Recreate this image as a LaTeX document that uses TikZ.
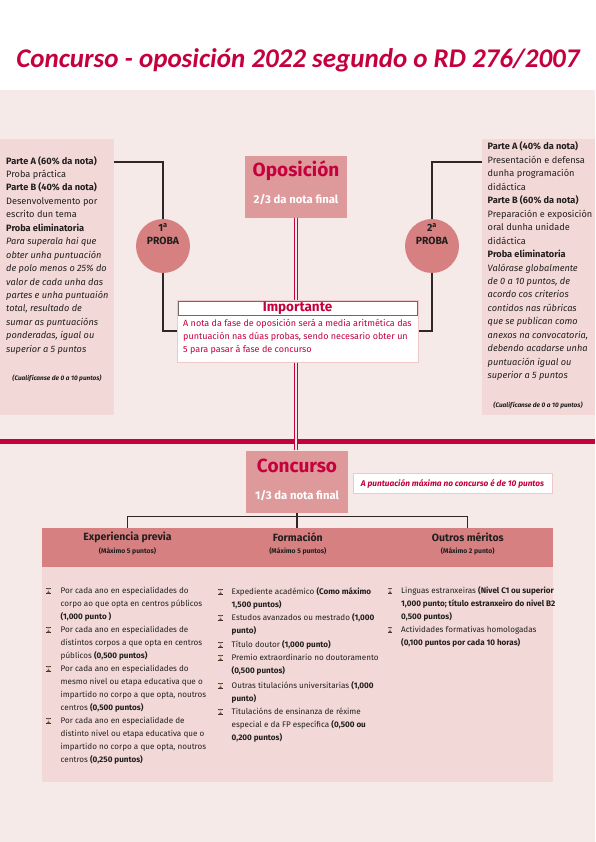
\documentclass[tikz,border=0pt]{standalone}
\usepackage{fontspec}
\setmainfont{Fira Sans}
\newfontfamily\titlefont{Carlito}
\usepackage{xcolor}
\usepackage{tikz}
\usetikzlibrary{positioning,calc}
\definecolor{rdcrimson}{RGB}{196,0,62}
\definecolor{rdbg}{RGB}{246,234,233}
\definecolor{rdpale}{RGB}{242,217,216}
\definecolor{rdrose}{RGB}{222,154,154}
\definecolor{rdsalmon}{RGB}{214,128,129}
\definecolor{rdink}{RGB}{34,30,30}
\definecolor{rdline}{RGB}{48,38,38}
\definecolor{rdframe}{RGB}{240,200,200}
\definecolor{rdgray}{RGB}{110,104,104}
\definecolor{rdsand}{RGB}{200,186,160}
\definecolor{rdbrown}{RGB}{120,84,58}
\newcommand{\fs}[2]{\fontsize{#1}{#2}\selectfont}

\tikzset{
  hourglass/.pic={
    \fill[rdline] (-2.3,-3.1) rectangle (2.3,-2.4);
    \fill[rdline] (-2.3,2.4) rectangle (2.3,3.1);
    \fill[rdsand] (-1.9,-2.4) -- (1.9,-2.4) -- (0,0) -- cycle;
    \fill[rdbrown] (-1.9,2.4) -- (1.9,2.4) -- (0,0) -- cycle;
  },
}

\begin{document}
\begin{tikzpicture}[x=1pt, y=-1pt,
  panel/.style={fill=rdpale, inner sep=0pt, outer sep=0pt, anchor=north west},
  phase/.style={fill=rdrose, inner sep=0pt, minimum width=102pt, minimum height=62pt},
  proba/.style={circle, fill=rdsalmon, inner sep=0pt, minimum size=54pt},
  sidetxt/.style={font=\fs{9.2}{13.45}, text=rdink, align=left, inner sep=0pt, anchor=base west},
  itemtxt/.style={font=\fs{8.1}{13}, text=rdink, align=left, inner sep=0pt, anchor=base west},
  headtxt/.style={font=\bfseries\fs{10.5}{12}, text=rdink},
  subtxt/.style={font=\bfseries\fs{6.8}{8}, text=rdink},
  wire/.style={rdline, line width=1.1pt},
  twin/.style={draw=rdcrimson, line width=0.7pt, double=rdbg, double distance=2pt},
]
\useasboundingbox (0,0) rectangle (595,842);

% ================= page =================
\fill[white] (0,0) rectangle (595,90);
\fill[rdbg] (0,90) rectangle (595,842);
\node[font=\titlefont\bfseries\itshape\fs{27}{30}, text=rdcrimson] (title) at (298,60)
  {Concurso - oposición 2022 segundo o RD 276/2007};

% ================= oposición =================
% multi-line texts sit on the baseline of their last line
\node[panel, minimum width=114pt, minimum height=276pt] (leftbox) at (0,139) {};
\node[panel, minimum width=113pt, minimum height=276pt] (rightbox) at (482,139) {};

\node[sidetxt] (lefttxt) at (6,352.3)
  {\textbf{Parte A (60\% da nota)}\\Proba práctica\\\textbf{Parte B (40\% da nota)}\\
   Desenvolvemento por\\escrito dun tema\\\textbf{Proba eliminatoria}\\
   \textit{Para superala hai que}\\\textit{obter unha puntuación}\\\textit{de polo menos o 25\% do}\\
   \textit{valor de cada unha das}\\\textit{partes e unha puntuaión}\\\textit{total, resultado de}\\
   \textit{sumar as puntuacións}\\\textit{ponderadas, igual ou}\\\textit{superior a 5 puntos}};
\node[font=\bfseries\itshape\fs{6.5}{8}, text=rdink] (leftnote) at (57,378)
  {(Cualifícanse de 0 a 10 puntos)};

\node[sidetxt] (righttxt) at (487.5,378.6)
  {\textbf{Parte A (40\% da nota)}\\Presentación e defensa\\dunha programación\\didáctica\\
   \textbf{Parte B (60\% da nota)}\\Preparación e exposición\\oral dunha unidade\\didáctica\\
   \textbf{Proba eliminatoria}\\\textit{Valórase globalmente}\\\textit{de 0 a 10 puntos, de}\\
   \textit{acordo cos criterios}\\\textit{contidos nas rúbricas}\\\textit{que se publican como}\\
   \textit{anexos na convocatoria,}\\\textit{debendo acadarse unha}\\\textit{puntuación igual ou}\\
   \textit{superior a 5 puntos}};
\node[font=\bfseries\itshape\fs{6.5}{8}, text=rdink] (rightnote) at (538,405)
  {(Cualifícanse de 0 a 10 puntos)};

\node[phase] (oposicion) at (296,187) {};
\node[font=\bfseries\fs{19}{22}, text=rdcrimson] (opotitle) at (296,171) {Oposición};
\node[font=\bfseries\fs{11.3}{13}, text=white] (oposhare) at (296,200) {2/3 da nota final};

\node[proba] (proba1) at (163,246) {};
\node[font=\bfseries\fs{10.4}{13}, align=center, text=rdink] (proba1txt) at (163,234)
  {1\textsuperscript{a}\\PROBA};
\node[proba] (proba2) at (432,246) {};
\node[font=\bfseries\fs{10.4}{13}, align=center, text=rdink] (proba2txt) at (432,234)
  {2\textsuperscript{a}\\PROBA};

% importante
\node[fill=white, draw=rdframe, line width=1pt, inner sep=0pt,
      minimum width=241pt, minimum height=62pt] (importante) at (297.5,331) {};
\node[fill=white, draw=rdgray, line width=0.8pt, inner sep=0pt, anchor=north,
      minimum width=239pt, minimum height=14pt, font=\bfseries\fs{13.5}{14}, text=rdcrimson]
      (imphead) at ($(importante.north)+(0,1)$) {Importante};
\node[font=\fs{9}{13.2}, text=rdcrimson, align=left, inner sep=0pt, anchor=base west] (impbody) at (183,352.4)
  {A nota da fase de oposición será a media aritmética das\\
   puntuación nas dúas probas, sendo necesario obter un\\5 para pasar á fase de concurso};

\coordinate (la) at ($(leftbox.north east)+(0,23)$);
\coordinate (ra) at ($(rightbox.north west)+(0,23)$);
\draw[wire] (la) -| (proba1.north);
\draw[wire] (proba1.south) |- (importante.west);
\draw[wire] (ra) -| (proba2.north);
\draw[wire] (proba2.south) |- (importante.east);

% ================= concurso =================
\fill[rdcrimson] (0,439) rectangle (595,443.5);

\node[phase] (concurso) at (297,481.5) {};
\node[font=\bfseries\fs{19}{22}, text=rdcrimson] (contitle) at (297,466) {Concurso};
\node[font=\bfseries\fs{11.3}{13}, text=white] (conshare) at (297,496) {1/3 da nota final};

\draw[twin] (oposicion.south) -- (oposicion.south |- importante.north);
\draw[twin] (importante.south -| oposicion.south) -- (oposicion.south |- concurso.north);

\node[fill=white, draw=rdframe, line width=0.8pt, inner sep=0pt, minimum width=199pt, minimum height=20pt,
      font=\bfseries\itshape\fs{8.3}{9}, text=rdcrimson] (maxnote) at (452.5,483.5)
  {A puntuación máxima no concurso é de 10 puntos};

\node[fill=rdsalmon, inner sep=0pt, anchor=north west, minimum width=511pt, minimum height=39pt] (band) at (42,528) {};
\node[panel, minimum width=511pt, minimum height=215pt] (listbox) at (42,567) {};

\node[headtxt] (hexp) at (127.5,537) {Experiencia previa};
\node[subtxt] (sexp) at (127.5,551.7) {(Máximo 5 puntos)};
\node[headtxt] (hfor) at (297.8,537) {Formación};
\node[subtxt] (sfor) at (297.8,551.7) {(Máximo 5 puntos)};
\node[headtxt] (hout) at (467.8,537) {Outros méritos};
\node[subtxt] (sout) at (467.8,551.7) {(Máximo 2 punto)};

\coordinate (fork) at ($(concurso.south)+(0,4)$);
\draw[wire] (concurso.south) -- (fork) -- (fork |- band.north);
\draw[wire] (fork) -| (hexp |- band.north);
\draw[wire] (fork) -| (hout |- band.north);

% experiencia previa  (number/first line/lines/text)
\foreach \n/\y/\k/\t in {
  1/591/3/{Por cada ano en especialidades do\\corpo ao que opta en centros públicos\\\textbf{(1,000 punto )}},
  2/630/3/{Por cada ano en especialidades de\\distintos corpos a que opta en centros\\públicos \textbf{(0,500 puntos)}},
  3/669/4/{Por cada ano en especialidades do\\mesmo nivel ou etapa educativa que o\\impartido no corpo a que opta, noutros\\centros \textbf{(0,500 puntos)}},
  4/721/4/{Por cada ano en especialidade de\\distinto nivel ou etapa educativa que o\\impartido no corpo a que opta, noutros\\centros \textbf{(0,250 puntos)}}} {
  \node[itemtxt] (exp\n) at (60.5,{\y+2.5+(\k-1)*13}) {\t};
  \pic at (48.5,\y) {hourglass};
}

% formación
\foreach \n/\y/\k/\t in {
  1/592/2/{Expediente académico \textbf{(Como máximo}\\\textbf{1,500 puntos)}},
  2/618/2/{Estudos avanzados ou mestrado \textbf{(1,000}\\\textbf{punto)}},
  3/645/1/{Título doutor \textbf{(1,000 punto)}},
  4/658/2/{Premio extraordinario no doutoramento\\\textbf{(0,500 puntos)}},
  5/686/2/{Outras titulacións universitarias \textbf{(1,000}\\\textbf{punto)}},
  6/712/3/{Titulacións de ensinanza de réxime\\especial e da FP específica \textbf{(0,500 ou}\\\textbf{0,200 puntos)}}} {
  \node[itemtxt] (for\n) at (231.5,{\y+2.5+(\k-1)*13}) {\t};
  \pic at (220.5,\y) {hourglass};
}

% outros méritos
\foreach \n/\y/\k/\t in {
  1/591/3/{Linguas estranxeiras \textbf{(Nivel C1 ou superior}\\\textbf{1,000 punto; título estranxeiro do nivel B2}\\\textbf{0,500 puntos)}},
  2/630/2/{Actividades formativas homologadas\\\textbf{(0,100 puntos por cada 10 horas)}}} {
  \node[itemtxt] (out\n) at (401,{\y+2.5+(\k-1)*13}) {\t};
  \pic at (390,\y) {hourglass};
}
\end{tikzpicture}
\end{document}
